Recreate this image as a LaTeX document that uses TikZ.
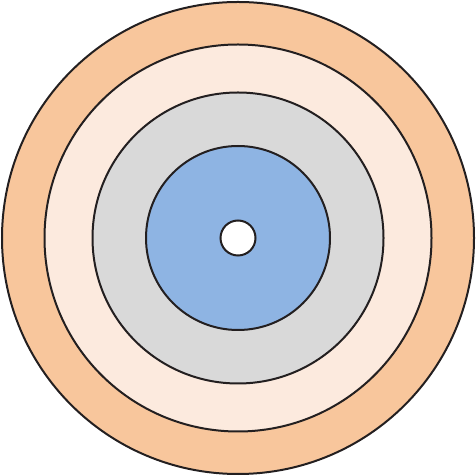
\documentclass[tikz,border=0pt]{standalone}
\definecolor{ringA}{HTML}{F8C69C}
\definecolor{ringB}{HTML}{FCEADE}
\definecolor{ringC}{HTML}{D9D9D9}
\definecolor{ringD}{HTML}{8EB4E3}
\definecolor{edge}{HTML}{231F20}
\tikzset{ring/.style={draw=edge,line width=2pt}}
\begin{document}
\begin{tikzpicture}[x=1pt,y=1pt]
\useasboundingbox (0,0) rectangle (476,476);
\coordinate (c) at (238,238);
\fill[ringA,ring] (c) circle (236);
\fill[ringB,ring] (c) circle (193.5);
\fill[ringC,ring] (c) circle (145.5);
\fill[ringD,ring] (c) circle (92);
\fill[white,ring] (c) circle (17.5);
\end{tikzpicture}
\end{document}
